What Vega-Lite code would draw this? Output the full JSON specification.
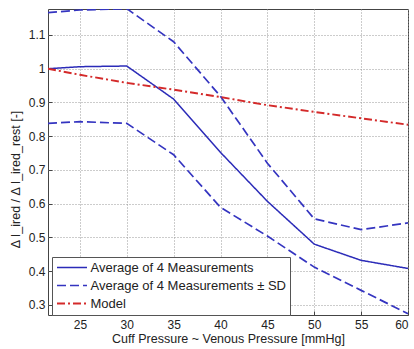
{
  "$schema": "https://vega.github.io/schema/vega-lite/v6.json",
  "width": 360,
  "height": 306,
  "autosize": {"type": "none"},
  "padding": {"left": 48, "top": 9, "right": 6, "bottom": 34},
  "background": "white",
  "config": {
    "font": "Liberation Sans",
    "view": {"stroke": "#444", "strokeWidth": 1},
    "axis": {
      "labelFont": "Liberation Sans",
      "titleFont": "Liberation Sans",
      "labelFontSize": 12,
      "titleFontSize": 12.5,
      "titleFontWeight": "normal",
      "labelColor": "#222",
      "titleColor": "#222",
      "grid": true,
      "gridDash": [1, 2],
      "gridColor": "#999",
      "gridWidth": 1,
      "domain": false,
      "tickColor": "#444",
      "tickSize": -4,
      "labelPadding": 7
    },
    "legend": {
      "labelFont": "Liberation Sans",
      "labelFontSize": 13,
      "labelColor": "#222"
    }
  },
  "data": {
    "values": [
      {"x": 21.6, "y": 1.0, "series": "avg", "type": "Average of 4 Measurements"},
      {"x": 25, "y": 1.006, "series": "avg", "type": "Average of 4 Measurements"},
      {"x": 30, "y": 1.008, "series": "avg", "type": "Average of 4 Measurements"},
      {"x": 35, "y": 0.91, "series": "avg", "type": "Average of 4 Measurements"},
      {"x": 40, "y": 0.752, "series": "avg", "type": "Average of 4 Measurements"},
      {"x": 45, "y": 0.607, "series": "avg", "type": "Average of 4 Measurements"},
      {"x": 50, "y": 0.48, "series": "avg", "type": "Average of 4 Measurements"},
      {"x": 55, "y": 0.432, "series": "avg", "type": "Average of 4 Measurements"},
      {"x": 60, "y": 0.408, "series": "avg", "type": "Average of 4 Measurements"},
      {"x": 21.6, "y": 1.166, "series": "upper", "type": "Average of 4 Measurements ± SD"},
      {"x": 25, "y": 1.174, "series": "upper", "type": "Average of 4 Measurements ± SD"},
      {"x": 30, "y": 1.178, "series": "upper", "type": "Average of 4 Measurements ± SD"},
      {"x": 35, "y": 1.08, "series": "upper", "type": "Average of 4 Measurements ± SD"},
      {"x": 40, "y": 0.918, "series": "upper", "type": "Average of 4 Measurements ± SD"},
      {"x": 45, "y": 0.72, "series": "upper", "type": "Average of 4 Measurements ± SD"},
      {"x": 50, "y": 0.555, "series": "upper", "type": "Average of 4 Measurements ± SD"},
      {"x": 55, "y": 0.523, "series": "upper", "type": "Average of 4 Measurements ± SD"},
      {"x": 60, "y": 0.543, "series": "upper", "type": "Average of 4 Measurements ± SD"},
      {"x": 21.6, "y": 0.838, "series": "lower", "type": "Average of 4 Measurements ± SD"},
      {"x": 25, "y": 0.843, "series": "lower", "type": "Average of 4 Measurements ± SD"},
      {"x": 30, "y": 0.838, "series": "lower", "type": "Average of 4 Measurements ± SD"},
      {"x": 35, "y": 0.745, "series": "lower", "type": "Average of 4 Measurements ± SD"},
      {"x": 40, "y": 0.589, "series": "lower", "type": "Average of 4 Measurements ± SD"},
      {"x": 45, "y": 0.504, "series": "lower", "type": "Average of 4 Measurements ± SD"},
      {"x": 50, "y": 0.412, "series": "lower", "type": "Average of 4 Measurements ± SD"},
      {"x": 55, "y": 0.343, "series": "lower", "type": "Average of 4 Measurements ± SD"},
      {"x": 60, "y": 0.274, "series": "lower", "type": "Average of 4 Measurements ± SD"},
      {"x": 21.6, "y": 1.0, "series": "model", "type": "Model"},
      {"x": 25, "y": 0.982, "series": "model", "type": "Model"},
      {"x": 30, "y": 0.958, "series": "model", "type": "Model"},
      {"x": 35, "y": 0.938, "series": "model", "type": "Model"},
      {"x": 40, "y": 0.916, "series": "model", "type": "Model"},
      {"x": 45, "y": 0.892, "series": "model", "type": "Model"},
      {"x": 50, "y": 0.872, "series": "model", "type": "Model"},
      {"x": 55, "y": 0.853, "series": "model", "type": "Model"},
      {"x": 60, "y": 0.834, "series": "model", "type": "Model"}
    ]
  },
  "mark": {"type": "line", "clip": true},
  "encoding": {
    "x": {
      "field": "x", "type": "quantitative",
      "scale": {"domain": [21.6, 60], "nice": false, "zero": false},
      "axis": {"values": [25, 30, 35, 40, 45, 50, 55, 60], "title": "Cuff Pressure ~ Venous Pressure [mmHg]", "titlePadding": 2, "labelPadding": 8}
    },
    "y": {
      "field": "y", "type": "quantitative",
      "scale": {"domain": [0.27, 1.177], "nice": false, "zero": false},
      "axis": {"values": [0.3, 0.4, 0.5, 0.6, 0.7, 0.8, 0.9, 1.0, 1.1], "format": ".1~f", "title": "Δ I_ired / Δ I_ired_rest [-]", "titleX": -33, "titleY": 170, "titleAngle": 270, "titleAlign": "center", "titleBaseline": "middle", "labelPadding": 7}
    },
    "detail": {"field": "series"},
    "color": {
      "field": "type", "type": "nominal",
      "scale": {
        "domain": ["Average of 4 Measurements", "Average of 4 Measurements ± SD", "Model"],
        "range": ["#2b2bb8", "#3434c0", "#d42a2a"]
      },
      "legend": {
        "title": null,
        "orient": "none",
        "legendX": 4,
        "legendY": 248,
        "symbolType": "M-3,0H3",
        "symbolSize": 100,
        "symbolOffset": 9.5,
        "symbolStrokeWidth": 1.6,
        "strokeColor": "#555",
        "fillColor": "white",
        "padding": 4,
        "rowPadding": 4,
        "labelOffset": 12,
        "labelLimit": 0
      }
    },
    "strokeDash": {
      "field": "type", "type": "nominal",
      "scale": {
        "domain": ["Average of 4 Measurements", "Average of 4 Measurements ± SD", "Model"],
        "range": [[1, 0], [9, 4], [8, 3, 2, 3]]
      },
      "legend": null
    },
    "strokeWidth": {
      "field": "type", "type": "nominal",
      "scale": {
        "domain": ["Average of 4 Measurements", "Average of 4 Measurements ± SD", "Model"],
        "range": [1.5, 1.9, 1.8]
      },
      "legend": null
    }
  }
}
